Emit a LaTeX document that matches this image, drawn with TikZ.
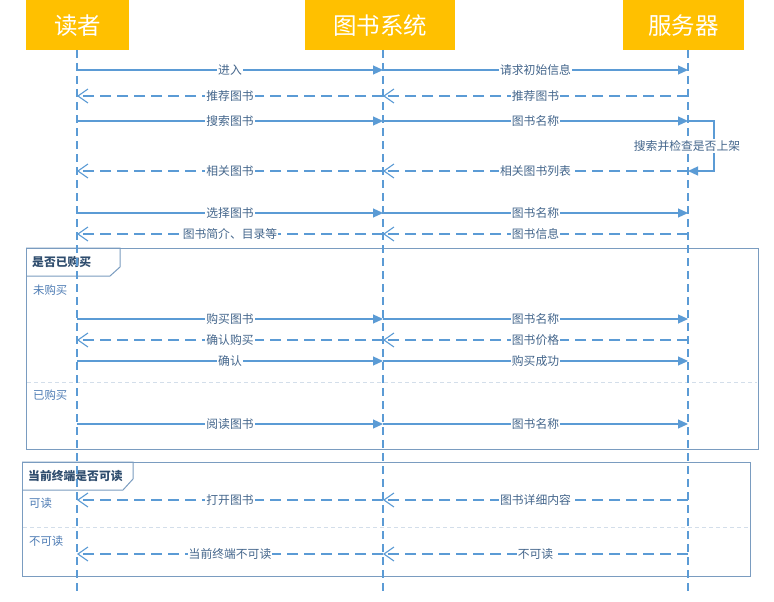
\documentclass[tikz,border=0pt]{standalone}
\usepackage{fontspec}
\setmainfont{Noto Sans CJK SC}
\usetikzlibrary{arrows.meta}
\definecolor{hdr}{HTML}{FFC000}
\definecolor{ln}{HTML}{5B9BD5}
\definecolor{txt}{HTML}{44668C}
\definecolor{frm}{HTML}{7A9CC0}
\definecolor{guard}{HTML}{4F7DB5}
\definecolor{ttl}{HTML}{2F4D6E}
\definecolor{divd}{HTML}{D3DEEA}
\begin{document}
\begin{tikzpicture}[x=1pt,y=-1pt,
  hdrbox/.style={fill=hdr, draw=none, text=white, font=\fontsize{23.5}{24}\selectfont, minimum height=50pt, inner sep=0pt, anchor=north west},
  lifeline/.style={draw=ln, line width=1.3pt, dash pattern=on 8pt off 5pt},
  sync/.style={draw=ln, line width=1.2pt, -{Triangle[length=10pt,width=9pt]}},
  ret/.style={draw=ln, line width=1.1pt, dash pattern=on 11pt off 6pt, -{Straight Barb[length=10pt,width=14pt]}},
  lbl/.style={fill=white, text=txt, font=\fontsize{11.8}{13}\selectfont, inner sep=1pt},
  frame/.style={draw=frm, line width=1pt},
  ftitle/.style={text=ttl, font=\fontsize{11.8}{13}\selectfont\bfseries, anchor=west, inner sep=0pt},
  guardtxt/.style={text=guard, font=\fontsize{11.4}{13}\selectfont, anchor=west, inner sep=0pt},
  divider/.style={draw=divd, line width=0.8pt, dash pattern=on 4pt off 3pt}
]
\useasboundingbox (0,0) rectangle (774,602);
\fill[white] (0,0) rectangle (774,602);

% headers
\node[hdrbox, minimum width=103pt] (reader) at (26,0) {读者};
\node[hdrbox, minimum width=150pt] (system) at (305,0) {图书系统};
\node[hdrbox, minimum width=121pt] (server) at (623,0) {服务器};

% coordinates
\coordinate (Rt) at (77,50);  \coordinate (Rb) at (77,592);
\coordinate (St) at (383,50); \coordinate (Sb) at (383,592);
\coordinate (Vt) at (688,50); \coordinate (Vb) at (688,592);
\foreach \n/\y in {1/70,2/96,3/121,4/171,5/213,6/234,7/319,8/340,9/361,10/424,11/500,12/554}{
  \coordinate (R\n) at (77,\y);
  \coordinate (S\n) at (383,\y);
  \coordinate (V\n) at (688,\y);
}
\coordinate (c1) at (714,121);
\coordinate (c2) at (714,171);

% frames
\draw[frame] (26,248) rectangle (758,449);
\draw[frame] (26,248) -- (120,248) -- (120,267) -- (110,276) -- (26,276);
\node[ftitle] (f1t) at (32,262) {是否已购买};
\node[guardtxt] (g1) at (33,290) {未购买};
\draw[divider] (27,382) -- (757,382);
\node[guardtxt] (g2) at (33,395) {已购买};

\draw[frame] (22,462) rectangle (750,576);
\draw[frame] (22,462) -- (133,462) -- (133,479) -- (123,490) -- (22,490);
\node[ftitle] (f2t) at (28,476) {当前终端是否可读};
\node[guardtxt] (g3) at (29,503) {可读};
\draw[divider] (23,527) -- (749,527);
\node[guardtxt] (g4) at (29,541) {不可读};

% lifelines
\draw[lifeline] (Rt) -- (Rb);
\draw[lifeline] (St) -- (Sb);
\draw[lifeline] (Vt) -- (Vb);

% messages
\draw[sync] (R1) -- node[lbl] {进入} (S1);
\draw[sync] (S1) -- node[lbl] {请求初始信息} (V1);
\draw[ret] (V2) -- node[lbl] {推荐图书} (S2);
\draw[ret] (S2) -- node[lbl] {推荐图书} (R2);
\draw[sync] (R3) -- node[lbl] {搜索图书} (S3);
\draw[sync] (S3) -- node[lbl] {图书名称} (V3);
\draw[sync] (V3) -- (c1) -- (c2) -- (V4);
\node[lbl] (selfl) at (687,146) {搜索并检查是否上架};
\draw[ret] (V4) -- node[lbl] {相关图书列表} (S4);
\draw[ret] (S4) -- node[lbl] {相关图书} (R4);
\draw[sync] (R5) -- node[lbl] {选择图书} (S5);
\draw[sync] (S5) -- node[lbl] {图书名称} (V5);
\draw[ret] (V6) -- node[lbl] {图书信息} (S6);
\draw[ret] (S6) -- node[lbl] {图书简介、目录等} (R6);
\draw[sync] (R7) -- node[lbl] {购买图书} (S7);
\draw[sync] (S7) -- node[lbl] {图书名称} (V7);
\draw[ret] (V8) -- node[lbl] {图书价格} (S8);
\draw[ret] (S8) -- node[lbl] {确认购买} (R8);
\draw[sync] (R9) -- node[lbl] {确认} (S9);
\draw[sync] (S9) -- node[lbl] {购买成功} (V9);
\draw[sync] (R10) -- node[lbl] {阅读图书} (S10);
\draw[sync] (S10) -- node[lbl] {图书名称} (V10);
\draw[ret] (V11) -- node[lbl] {图书详细内容} (S11);
\draw[ret] (S11) -- node[lbl] {打开图书} (R11);
\draw[ret] (V12) -- node[lbl] {不可读} (S12);
\draw[ret] (S12) -- node[lbl] {当前终端不可读} (R12);
\end{tikzpicture}
\end{document}
